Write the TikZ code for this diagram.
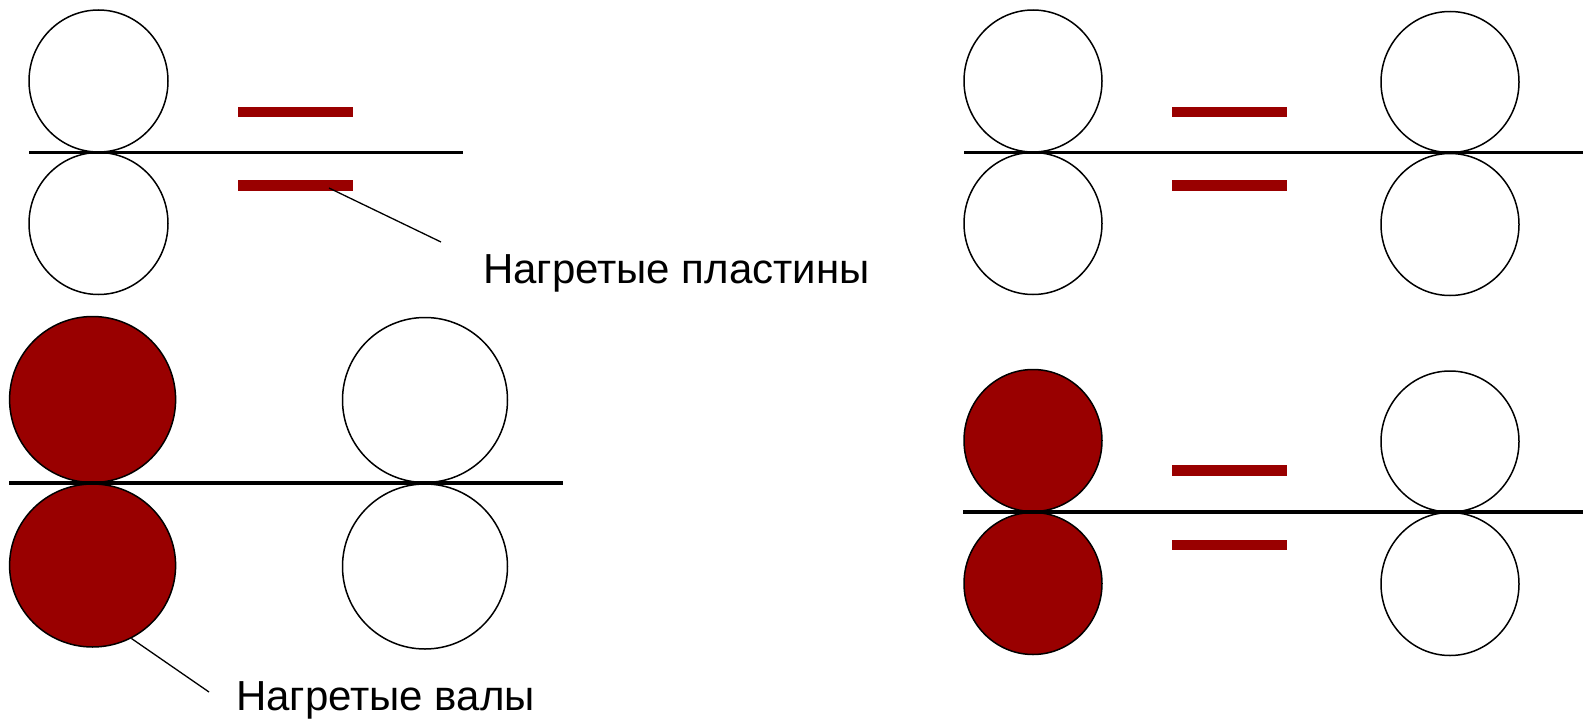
\documentclass[tikz,border=0pt]{standalone}
\usepackage{fontspec}
\setmainfont{Liberation Sans}
\usetikzlibrary{shapes.geometric}
\definecolor{heat}{RGB}{153,0,0}
\tikzset{
  roll/.style={ellipse, draw=black, line width=1.5pt, inner sep=0pt, minimum width=#1},
  coldroll/.style={roll=#1, fill=white},
  hotroll/.style={roll=#1, fill=heat},
  plate/.style={rectangle, fill=heat, inner sep=0pt, minimum width=115pt, minimum height=10.5pt},
  strip/.style={line width=3.2pt, black},
  leader/.style={line width=1.3pt, black},
  lbl/.style={anchor=base west, inner sep=0pt, font=\fontsize{42}{50}\selectfont}
}
\begin{document}
\begin{tikzpicture}[x=1pt, y=-1pt]
\useasboundingbox (0,0) rectangle (1583,720);
% ---------- panel 1 (top left) ----------
\coordinate (s1a) at (29,152.7);
\coordinate (s1b) at (463,152.7);
\node[coldroll=139pt, minimum height=142pt] (r1t) at (98.5,81) {};
\node[coldroll=139pt, minimum height=142pt] (r1b) at (98.5,223.5) {};
\node[plate] (p1t) at (295.5,112) {};
\node[plate] (p1b) at (295.5,185.5) {};
\coordinate (l1s) at (329,188);
\coordinate (l1e) at (441,242);
\draw[leader] (l1s) -- (l1e);
\node[lbl] (t1) at (483,283.3) {Нагретые пластины};
% ---------- panel 2 (bottom left) ----------
\coordinate (s2a) at (9,483);
\coordinate (s2b) at (563,483);
\node[hotroll=166pt, minimum height=166pt] (r2t) at (92.6,399.5) {};
\node[hotroll=166pt, minimum height=163pt] (r2b) at (92.6,565.5) {};
\node[coldroll=165pt, minimum height=165pt] (r2wt) at (425,400) {};
\node[coldroll=165pt, minimum height=165pt] (r2wb) at (425,566.5) {};
\coordinate (l2e) at (209,692);
\draw[leader] (r2b.-62) -- (l2e);
\node[lbl] (t2) at (236,710) {Нагретые валы};
% ---------- panel 3 (top right) ----------
\coordinate (s3a) at (964,152.7);
\coordinate (s3b) at (1583,152.7);
\node[coldroll=138pt, minimum height=142pt] (r3t) at (1033,81) {};
\node[coldroll=138pt, minimum height=142pt] (r3b) at (1033,223.5) {};
\node[coldroll=138pt, minimum height=141pt] (r3wt) at (1450,82) {};
\node[coldroll=138pt, minimum height=142pt] (r3wb) at (1450,224.5) {};
\node[plate] (p3t) at (1229,112) {};
\node[plate] (p3b) at (1229,185.5) {};
% ---------- panel 4 (bottom right) ----------
\coordinate (s4a) at (963,512);
\coordinate (s4b) at (1583,512);
\node[hotroll=138pt, minimum height=142pt] (r4t) at (1033,440.5) {};
\node[hotroll=138pt, minimum height=142pt] (r4b) at (1033,583.5) {};
\node[coldroll=138pt, minimum height=141pt] (r4wt) at (1450,441.5) {};
\node[coldroll=138pt, minimum height=143pt] (r4wb) at (1450,584) {};
\node[plate] (p4t) at (1229,470.5) {};
\node[plate] (p4b) at (1229,545) {};
% ---------- strips (drawn over the rolls) ----------
\draw[strip] (s1a) -- (s1b);
\draw[strip] (s2a) -- (s2b);
\draw[strip] (s3a) -- (s3b);
\draw[strip] (s4a) -- (s4b);
\end{tikzpicture}
\end{document}
